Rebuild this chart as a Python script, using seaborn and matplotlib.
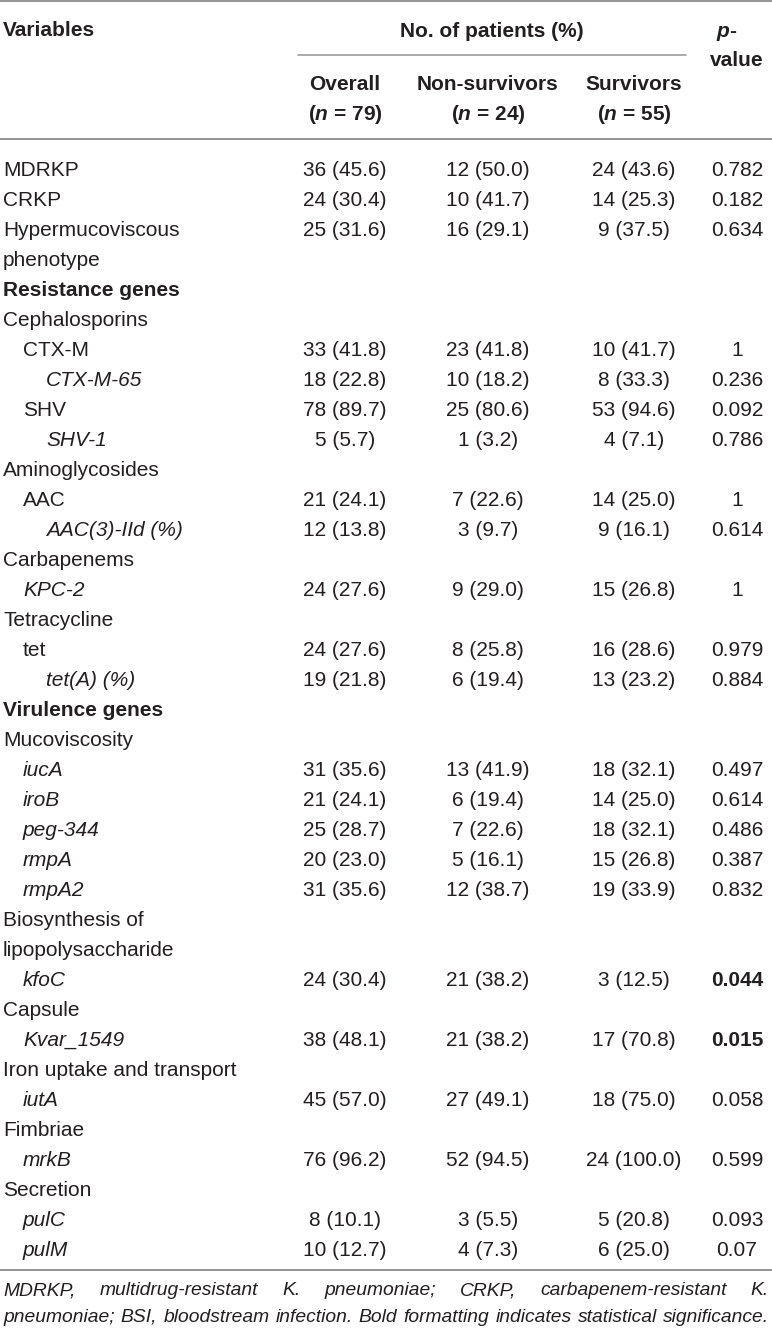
import numpy as np
import pandas as pd
import seaborn as sns
import matplotlib.pyplot as plt

# table rows
variables = ["MDRKP", "CRKP", "Hypermucoviscous", "phenotype", "Resistance genes",
             "Cephalosporins", "CTX-M", "CTX-M-65", "SHV", "SHV-1",
             "Aminoglycosides", "AAC", "AAC(3)-IId (%)", "Carbapenems", "KPC-2",
             "Tetracycline", "tet", "tet(A) (%)", "Virulence genes", "Mucoviscosity",
             "iucA", "iroB", "peg-344", "rmpA", "rmpA2",
             "Biosynthesis of", "lipopolysaccharide", "kfoC", "Capsule", "Kvar_1549",
             "Iron uptake and transport", "iutA", "Fimbriae", "mrkB", "Secretion",
             "pulC", "pulM"]
overall = ["36 (45.6)", "24 (30.4)", "25 (31.6)", "", "",
           "", "33 (41.8)", "18 (22.8)", "78 (89.7)", "5 (5.7)",
           "", "21 (24.1)", "12 (13.8)", "", "24 (27.6)",
           "", "24 (27.6)", "19 (21.8)", "", "",
           "31 (35.6)", "21 (24.1)", "25 (28.7)", "20 (23.0)", "31 (35.6)",
           "", "", "24 (30.4)", "", "38 (48.1)",
           "", "45 (57.0)", "", "76 (96.2)", "",
           "8 (10.1)", "10 (12.7)"]
non_survivors = ["12 (50.0)", "10 (41.7)", "16 (29.1)", "", "",
                 "", "23 (41.8)", "10 (18.2)", "25 (80.6)", "1 (3.2)",
                 "", "7 (22.6)", "3 (9.7)", "", "9 (29.0)",
                 "", "8 (25.8)", "6 (19.4)", "", "",
                 "13 (41.9)", "6 (19.4)", "7 (22.6)", "5 (16.1)", "12 (38.7)",
                 "", "", "21 (38.2)", "", "21 (38.2)",
                 "", "27 (49.1)", "", "52 (94.5)", "",
                 "3 (5.5)", "4 (7.3)"]
survivors = ["24 (43.6)", "14 (25.3)", "9 (37.5)", "", "",
             "", "10 (41.7)", "8 (33.3)", "53 (94.6)", "4 (7.1)",
             "", "14 (25.0)", "9 (16.1)", "", "15 (26.8)",
             "", "16 (28.6)", "13 (23.2)", "", "",
             "18 (32.1)", "14 (25.0)", "18 (32.1)", "15 (26.8)", "19 (33.9)",
             "", "", "3 (12.5)", "", "17 (70.8)",
             "", "18 (75.0)", "", "24 (100.0)", "",
             "5 (20.8)", "6 (25.0)"]
p_values = ["0.782", "0.182", "0.634", "", "",
            "", "1", "0.236", "0.092", "0.786",
            "", "1", "0.614", "", "1",
            "", "0.979", "0.884", "", "",
            "0.497", "0.614", "0.486", "0.387", "0.832",
            "", "", "0.044", "", "0.015",
            "", "0.058", "", "0.599", "",
            "0.093", "0.07"]
significant = ["0.044", "0.015"]

# indent level and text style of the variable column
indent = [0, 0, 0, 0, 0,
          0, 1, 2, 1, 2,
          0, 1, 2, 0, 1,
          0, 1, 2, 0, 0,
          1, 1, 1, 1, 1,
          0, 0, 1, 0, 1,
          0, 1, 0, 1, 0,
          1, 1]
style = ["n", "n", "n", "n", "b",
         "n", "n", "i", "n", "i",
         "n", "n", "i", "n", "i",
         "n", "n", "i", "b", "n",
         "i", "i", "i", "i", "i",
         "n", "n", "i", "n", "i",
         "n", "i", "n", "i", "n",
         "i", "i"]

col_heads = ["Overall", "Non-survivors", "Survivors"]
col_n = ["79", "24", "55"]

footnote = ["MDRKP, multidrug-resistant K. pneumoniae; CRKP, carbapenem-resistant K.",
            "pneumoniae; BSI, bloodstream infection. Bold formatting indicates statistical significance."]

df = pd.DataFrame({"variable": variables, "overall": overall,
                   "non_survivors": non_survivors, "survivors": survivors,
                   "p": p_values, "indent": indent, "style": style})

sns.set_theme(style="white")
plt.rcParams['font.family'] = ['Liberation Sans', 'DejaVu Sans']
plt.rcParams['mathtext.fontset'] = 'custom'
plt.rcParams['mathtext.bfit'] = 'Liberation Sans:italic:bold'
plt.rcParams['mathtext.it'] = 'Liberation Sans:italic'
plt.rcParams['mathtext.rm'] = 'Liberation Sans'

W, H = 772, 1335
fig = plt.figure(figsize=(W / 100, H / 100), dpi=100)
ax = fig.add_axes([0, 0, 1, 1])
ax.set_xlim(0, W)
ax.set_ylim(H, 0)
ax.axis("off")

txt = "#231f20"
rule = "#939393"
fs = 15
col_x = [345, 488, 634]
p_x = 737

# rules
ax.plot([0, W], [1, 1], color=rule, lw=1.4)
ax.plot([298, 686], [55, 55], color=rule, lw=1.1)
ax.plot([0, W], [139, 139], color=rule, lw=1.4)
ax.plot([0, W], [1270, 1270], color=rule, lw=1.4)

# header
ax.text(3, 36, "Variables", fontsize=fs, fontweight="bold", color=txt)
ax.text(492, 37, "No. of patients (%)", fontsize=fs, fontweight="bold", color=txt, ha="center")
ax.text(727, 37, r"$\mathbfit{p}$-", fontsize=fs, fontweight="bold", color=txt, ha="center")
ax.text(p_x, 66, "value", fontsize=fs, fontweight="bold", color=txt, ha="center")
for x, head, n in zip(col_x, col_heads, col_n):
    ax.text(x, 90, head, fontsize=fs, fontweight="bold", color=txt, ha="center")
    ax.text(x, 120, r"($\mathbfit{n}$ = " + n + ")", fontsize=fs, fontweight="bold",
            color=txt, ha="center")

# body
y0, dy = 176, 30
indent_x = [3, 23, 46]
for i, row in df.iterrows():
    y = y0 + i * dy
    weight = "bold" if row["style"] == "b" else "normal"
    fstyle = "italic" if row["style"] == "i" else "normal"
    ax.text(indent_x[row["indent"]], y, row["variable"], fontsize=fs,
            fontweight=weight, fontstyle=fstyle, color=txt)
    for x, key in zip(col_x, ["overall", "non_survivors", "survivors"]):
        ax.text(x, y, row[key], fontsize=fs, color=txt, ha="center")
    ax.text(p_x, y, row["p"], fontsize=fs, color=txt, ha="center",
            fontweight="bold" if row["p"] in significant else "normal")

# footnote, justified
fig.canvas.draw()
renderer = fig.canvas.get_renderer()
left, right = 3, 769
for line, y in zip(footnote, [1295, 1322]):
    words = line.split(" ")
    objs = [ax.text(0, y, w, fontsize=13.9, fontstyle="italic", color=txt) for w in words]
    widths = [o.get_window_extent(renderer).width for o in objs]
    gap = (right - left - sum(widths)) / (len(words) - 1)
    x = left
    for o, w in zip(objs, widths):
        o.set_x(x)
        x += w + gap

fig.savefig("out.png", dpi=100)
